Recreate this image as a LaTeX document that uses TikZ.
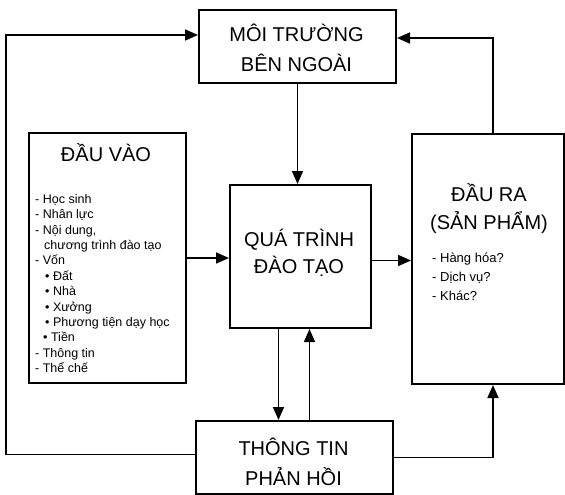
\documentclass[tikz,border=0pt]{standalone}
\usepackage{fontspec}
\setmainfont{Liberation Sans}
\usetikzlibrary{arrows.meta,calc}
\begin{document}
\begin{tikzpicture}[x=1pt,y=-1pt,
 box/.style={draw,line width=2pt,inner sep=0pt,anchor=north west},
 ttl/.style={font=\fontsize{20}{28}\selectfont,align=center,inner sep=0pt},
 lst/.style={font=\fontsize{12.5}{15.4}\selectfont,align=left,inner sep=0pt,anchor=north west},
 arr/.style={line width=1.7pt,-{Triangle[length=13pt,width=11pt]}},
 ln/.style={line width=1.7pt}]
\useasboundingbox (0,0) rectangle (565,495);
% boxes
\node[box,minimum width=197pt,minimum height=73pt] (env) at (198,9) {};
\node[box,minimum width=157pt,minimum height=250pt] (inp) at (28,132) {};
\node[box,minimum width=141pt,minimum height=143pt] (proc) at (229,184) {};
\node[box,minimum width=152pt,minimum height=250pt] (out) at (411,133) {};
\node[box,minimum width=197pt,minimum height=73pt] (fb) at (195,420) {};
% titles
\node[ttl,font=\fontsize{20}{30}\selectfont] (envt) at (296.5,48) {MÔI TRƯỜNG\\BÊN NGOÀI};
\node[ttl,font=\fontsize{20}{27}\selectfont] (proct) at (299,253) {QUÁ TRÌNH\\ĐÀO TẠO};
\node[ttl,font=\fontsize{20}{30}\selectfont] (fbt) at (293.5,462) {THÔNG TIN\\PHẢN HỒI};
\node[ttl] (inpt) at (106,153) {ĐẦU VÀO};
\node[ttl] (outt) at (489,209) {ĐẦU RA\\(SẢN PHẨM)};
% lists
\node[lst] (inpl) at (35,194) {- Học sinh\\- Nhân lực\\- Nội dung,\\\hspace*{9pt}chương trình đào tạo\\- Vốn\\\hspace*{10pt}\textbullet\ Đất\\\hspace*{10pt}\textbullet\ Nhà\\\hspace*{10pt}\textbullet\ Xưởng\\\hspace*{10pt}\textbullet\ Phương tiện dạy học\\\hspace*{8pt}\textbullet\ Tiền\\- Thông tin\\- Thể chế};
\node[lst,font=\fontsize{13}{19}\selectfont] (outl) at (432,253) {- Hàng hóa?\\- Dịch vụ?\\- Khác?};
% connectors
\coordinate (dn) at ([xshift=-22pt]proc.south);
\coordinate (up) at ([xshift=9pt]proc.south);
\coordinate (lc) at (6,35);
\coordinate (rc) at (493,38);
\draw[arr] (env.south) -- (env.south |- proc.north);
\draw[arr] (inp.east) -- (inp.east -| proc.west);
\draw[arr] ([yshift=-4pt]proc.east) -- ([yshift=-4pt]proc.east -| out.west);
\draw[arr] (dn) -- (dn |- fb.north);
\draw[arr] (up |- fb.north) -- (up);
\draw[arr] ([yshift=3pt]fb.west) -| (lc) -- (lc -| env.west);
\draw[arr] (rc |- out.north) -- (rc) -- (rc -| env.east);
\draw[arr] (fb.east) -| ([xshift=5pt]out.south);
\end{tikzpicture}
\end{document}
